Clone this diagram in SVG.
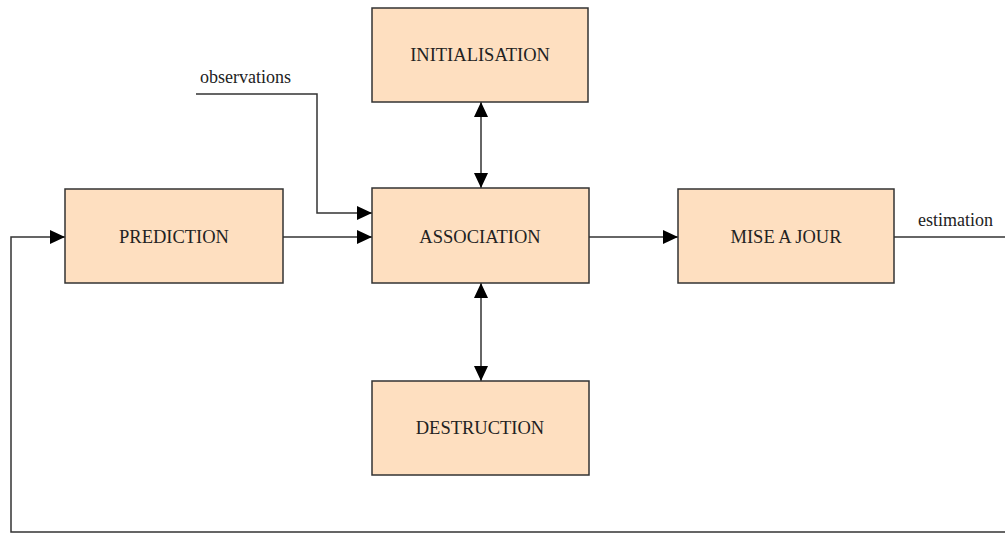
<svg xmlns="http://www.w3.org/2000/svg" width="1005" height="536" viewBox="0 0 1005 536">
<style>
.box{fill:#FEDFC0;stroke:#333;stroke-width:1.5}
.lbl{font-family:"Liberation Serif","DejaVu Serif",serif;font-size:18.5px;fill:#222;text-anchor:middle;dominant-baseline:central}
.sm{font-family:"Liberation Serif","DejaVu Serif",serif;font-size:18px;fill:#222}
.ln{fill:none;stroke:#333;stroke-width:1.5}
</style>
<defs>
<marker id="ah" viewBox="0 0 15 14" refX="15" refY="7" markerWidth="15" markerHeight="14" markerUnits="userSpaceOnUse" orient="auto-start-reverse">
<path d="M0,0 L15,7 L0,14 Z" fill="#000"/>
</marker>
</defs>
<g id="connectors">
<polyline class="ln" points="196,94 317,94 317,213 372,213" marker-end="url(#ah)"/>
<line class="ln" x1="283" y1="237" x2="372" y2="237" marker-end="url(#ah)"/>
<line class="ln" x1="589" y1="237" x2="678" y2="237" marker-end="url(#ah)"/>
<line class="ln" x1="894" y1="237" x2="1005" y2="237"/>
<polyline class="ln" points="1005,532 11,532 11,237 65,237" marker-end="url(#ah)"/>
<line class="ln" x1="481" y1="102" x2="481" y2="188" marker-start="url(#ah)" marker-end="url(#ah)"/>
<line class="ln" x1="481" y1="283" x2="481" y2="381" marker-start="url(#ah)" marker-end="url(#ah)"/>
<text class="sm" x="200" y="83">observations</text>
<text class="sm" x="918" y="226">estimation</text>
</g>
<g id="initialisation">
<rect class="box" x="372" y="8" width="216" height="94"/>
<text class="lbl" x="480" y="55">INITIALISATION</text>
</g>
<g id="prediction">
<rect class="box" x="65" y="189" width="218" height="94"/>
<text class="lbl" x="174" y="237">PREDICTION</text>
</g>
<g id="association">
<rect class="box" x="372" y="188" width="217" height="95"/>
<text class="lbl" x="480" y="237">ASSOCIATION</text>
</g>
<g id="misajour">
<rect class="box" x="678" y="189" width="216" height="94"/>
<text class="lbl" x="786" y="237">MISE A JOUR</text>
</g>
<g id="destruction">
<rect class="box" x="372" y="381" width="217" height="94"/>
<text class="lbl" x="480" y="428">DESTRUCTION</text>
</g>
</svg>
